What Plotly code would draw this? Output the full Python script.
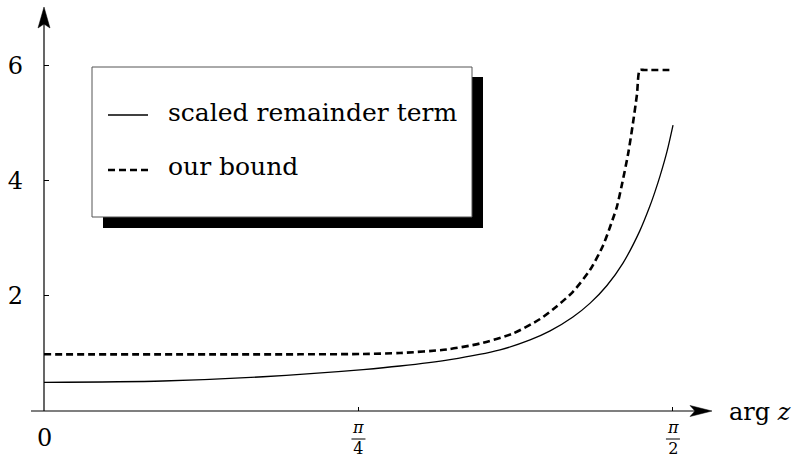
import math
import plotly.graph_objects as go

PI = math.pi

# ---- data ----
x_remainder = [0.000, 0.297, 0.547, 0.797, 0.889, 1.014, 1.139, 1.214, 1.264, 1.321,
               1.364, 1.406, 1.446, 1.488, 1.513, 1.526, 1.539, 1.556, 1.571]
y_remainder = [0.498, 0.521, 0.595, 0.720, 0.781, 0.893, 1.062, 1.234, 1.391, 1.632,
               1.873, 2.179, 2.568, 3.127, 3.553, 3.808, 4.091, 4.508, 4.965]

x_bound = [0.000, 0.639, 0.797, 0.889, 1.006, 1.089, 1.171, 1.239, 1.281, 1.321,
           1.364, 1.396, 1.420, 1.431, 1.443, 1.459, 1.471, 1.481, 1.488, 1.500, 1.571]
y_bound = [0.984, 0.984, 0.990, 1.007, 1.068, 1.172, 1.345, 1.597, 1.820, 2.070,
           2.453, 2.870, 3.320, 3.550, 3.920, 4.470, 5.000, 5.500, 5.920, 5.920, 5.920]

x_tick_vals = [0, PI / 4, PI / 2]
x_tick_text = ["0", "<i>π</i><br>4", "<i>π</i><br>2"]
y_tick_vals = [2, 4, 6]
y_tick_text = ["2", "4", "6"]
legend_labels = ["scaled remainder term", "our bound"]
x_label = "arg <i>z</i>"

# ---- layout geometry ----
W, H = 793, 458
L, R, T, B = 44, 81, 6, 47
PW = W - L - R
PH = H - T - B
X_MAX = PW / 400.4
Y_MAX = PH / 57.6
FONT = "DejaVu Serif"


def px(xp):
    return (xp - L) / PW


def py(yp):
    return (H - B - yp) / PH


fig = go.Figure()
fig.add_trace(go.Scatter(x=x_remainder, y=y_remainder, mode="lines",
                         line=dict(color="black", width=1.3, shape="spline", smoothing=0.8),
                         name=legend_labels[0], showlegend=False))
fig.add_trace(go.Scatter(x=x_bound, y=y_bound, mode="lines",
                         line=dict(color="black", width=2.6, dash="7px,4px", shape="spline", smoothing=0.7),
                         name=legend_labels[1], showlegend=False))

shapes = []
# x axis + arrow
shapes.append(dict(type="line", xref="paper", yref="paper", x0=px(31), x1=px(700), y0=py(411), y1=py(411),
                   line=dict(color="black", width=1.2)))
shapes.append(dict(type="path", xref="paper", yref="paper",
                   path=f"M {px(712)},{py(411)} L {px(690)},{py(405.5)} L {px(695)},{py(411)} L {px(690)},{py(416.5)} Z",
                   fillcolor="black", line=dict(color="black", width=0.5)))
# y axis + arrow
shapes.append(dict(type="line", xref="paper", yref="paper", x0=px(44), x1=px(44), y0=py(411), y1=py(24),
                   line=dict(color="black", width=1.2)))
shapes.append(dict(type="path", xref="paper", yref="paper",
                   path=f"M {px(44)},{py(7)} L {px(38)},{py(28)} L {px(44)},{py(24)} L {px(50)},{py(28)} Z",
                   fillcolor="black", line=dict(color="black", width=0.5)))
# legend shadow + box
shapes.append(dict(type="rect", xref="paper", yref="paper", x0=px(103), x1=px(483), y0=py(228), y1=py(77),
                   fillcolor="black", line=dict(width=0)))
shapes.append(dict(type="rect", xref="paper", yref="paper", x0=px(92), x1=px(472), y0=py(217), y1=py(67),
                   fillcolor="white", line=dict(color="#555555", width=1)))
shapes.append(dict(type="line", xref="paper", yref="paper", x0=px(108), x1=px(148), y0=py(115), y1=py(115),
                   line=dict(color="black", width=1.3)))
shapes.append(dict(type="line", xref="paper", yref="paper", x0=px(108), x1=px(148), y0=py(170), y1=py(170),
                   line=dict(color="black", width=2.6, dash="7px,4px")))

annotations = []
annotations.append(dict(xref="paper", yref="paper", x=px(166), y=py(112), xanchor="left", yanchor="middle",
                        text=legend_labels[0], showarrow=False, font=dict(family=FONT, size=25, color="black")))
annotations.append(dict(xref="paper", yref="paper", x=px(166), y=py(167), xanchor="left", yanchor="middle",
                        text=legend_labels[1], showarrow=False, font=dict(family=FONT, size=25, color="black")))
annotations.append(dict(xref="paper", yref="paper", x=px(727), y=py(412), xanchor="left", yanchor="middle",
                        text=x_label, showarrow=False, font=dict(family=FONT, size=24, color="black")))

# x tick labels (0 plain, fractions as two-line labels with a bar)
for v, txt in zip(x_tick_vals, x_tick_text):
    if "<br>" not in txt:
        annotations.append(dict(xref="x", yref="paper", x=v, y=py(438), xanchor="center", yanchor="middle",
                                text=txt, showarrow=False, font=dict(family=FONT, size=24, color="black")))
    else:
        annotations.append(dict(xref="x", yref="paper", x=v, y=py(438), xanchor="center", yanchor="middle",
                                text=txt, showarrow=False, borderpad=0,
                                font=dict(family=FONT, size=16, color="black")))
        shapes.append(dict(type="line", xref="x", yref="paper", x0=v - 7 / 400.4, x1=v + 7 / 400.4,
                           y0=py(439), y1=py(439), line=dict(color="black", width=1)))

fig.update_layout(
    width=W, height=H,
    margin=dict(l=L, r=R, t=T, b=B),
    paper_bgcolor="white", plot_bgcolor="white",
    shapes=shapes, annotations=annotations,
    showlegend=False,
    xaxis=dict(range=[0, X_MAX], showline=False, showgrid=False, zeroline=False,
               tickvals=x_tick_vals[1:], ticks="inside", ticklen=4, tickwidth=1, tickcolor="black",
               showticklabels=False, fixedrange=True),
    yaxis=dict(range=[0, Y_MAX], showline=False, showgrid=False, zeroline=False,
               tickvals=y_tick_vals, ticktext=y_tick_text, ticks="inside", ticklen=5, tickwidth=1,
               tickcolor="black", tickfont=dict(family=FONT, size=24, color="black"),
               ticklabelstandoff=20, fixedrange=True),
)

fig.write_html("out.html", config={"displayModeBar": False},
               post_script="document.body.style.margin='0';document.body.style.overflow='hidden';")
